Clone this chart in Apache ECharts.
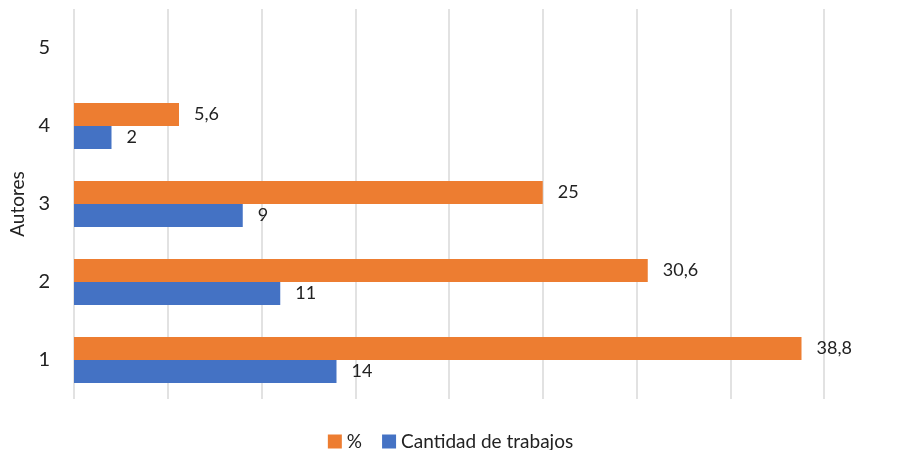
<!DOCTYPE html>
<html>
<head>
<meta charset="utf-8">
<script src="https://cdn.jsdelivr.net/npm/echarts@6/dist/echarts.min.js"></script>
<style>
  html, body { margin: 0; padding: 0; background: #fff; }
  #main { width: 901px; height: 450px; }
</style>
</head>
<body>
<div id="main"></div>
<script>
// datos
var autores = ['1', '2', '3', '4', '5'];
var porcentaje = [38.8, 30.6, 25, 5.6, null];
var cantidad = [14, 11, 9, 2, null];

var fuente = 'Lato, "Open Sans", sans-serif';
function coma(p) {
    return String(p.value).replace('.', ',');
}

var myChart = echarts.init(document.getElementById('main'));
myChart.setOption({
    animation: false,
    textStyle: { fontFamily: fuente },
    grid: { left: 74, right: 77, top: 9, bottom: 51, containLabel: false, outerBoundsMode: 'none' },
    legend: {
        top: 427,
        left: 'center',
        itemWidth: 14,
        itemHeight: 14,
        itemGap: 20,
        icon: 'rect',
        textStyle: { fontSize: 19, color: '#222', fontFamily: fuente },
        data: ['%', 'Cantidad de trabajos']
    },
    xAxis: {
        type: 'value',
        min: 0,
        max: 40,
        interval: 5,
        axisLabel: { show: false },
        axisLine: { show: false },
        axisTick: { show: false },
        splitLine: { lineStyle: { color: '#d9d9d9', width: 1.5 } }
    },
    yAxis: {
        type: 'category',
        data: autores,
        name: 'Autores',
        nameLocation: 'middle',
        nameGap: 44,
        nameRotate: 90,
        nameTextStyle: { fontSize: 19, color: '#222', fontFamily: fuente },
        axisLine: { show: false },
        axisTick: { show: false },
        axisLabel: { fontSize: 20, color: '#222', margin: 24, fontFamily: fuente }
    },
    series: [
        {
            name: '%',
            type: 'bar',
            data: porcentaje,
            barWidth: 23,
            barGap: '0%',
            itemStyle: { color: '#ED7D31' },
            label: { show: true, position: 'right', distance: 15, fontSize: 18, color: '#222', formatter: coma }
        },
        {
            name: 'Cantidad de trabajos',
            type: 'bar',
            data: cantidad,
            barWidth: 23,
            barGap: '0%',
            itemStyle: { color: '#4472C4' },
            label: { show: true, position: 'right', distance: 15, fontSize: 18, color: '#222', formatter: coma }
        }
    ]
});
</script>
</body>
</html>
